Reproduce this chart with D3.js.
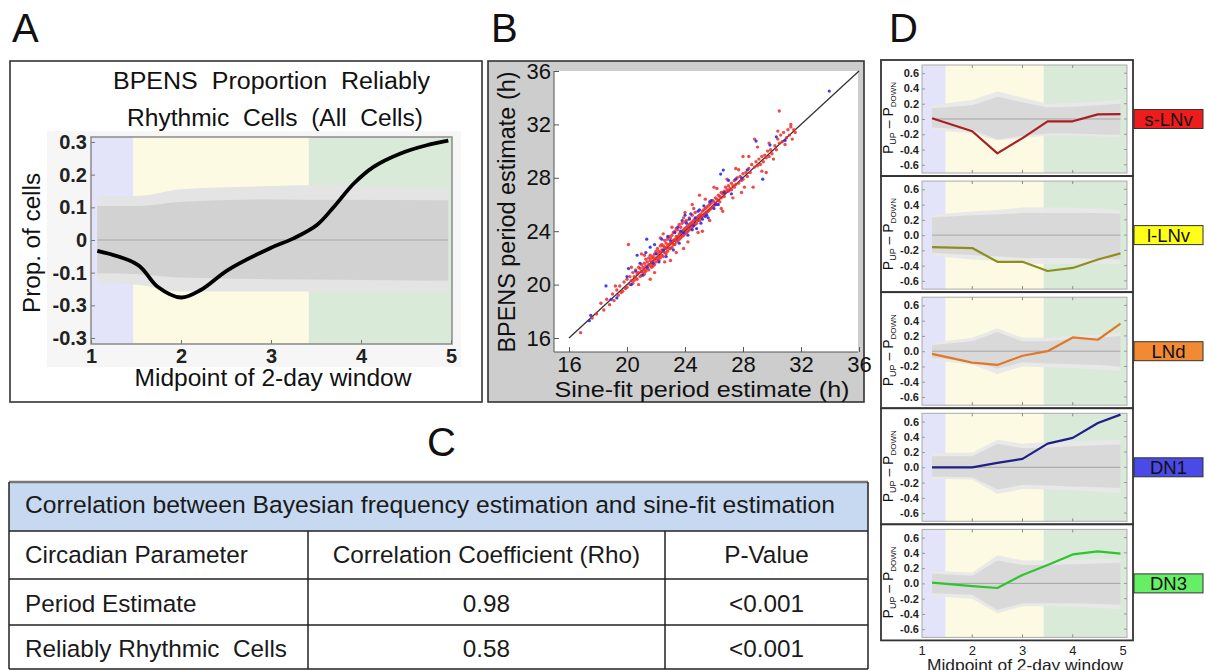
<!DOCTYPE html>
<html>
<head>
<meta charset="utf-8">
<script src="https://cdn.jsdelivr.net/npm/d3@7"></script>
<style>
  body { margin: 0; background: #fff; }
  svg { display: block; font-family: "Liberation Sans", Arial, Helvetica, sans-serif; }
  text.pre { white-space: pre; }
</style>
</head>
<body>
<svg id="fig" width="1206" height="670"></svg>
<script>
// ---------------- Panel A: proportion of reliably rhythmic cells ----------------
const windowMid   = [1.07, 1.52, 1.74, 2.00, 2.22, 2.52, 2.99, 3.25, 3.51, 3.70, 3.92, 4.14, 4.44, 4.73, 4.97];
const propCells   = [-0.033, -0.076, -0.143, -0.176, -0.153, -0.092, -0.025, 0.005, 0.046, 0.102, 0.173, 0.224, 0.265, 0.290, 0.304];
const nullX       = [1.07, 1.52, 2.00, 3.00, 3.70, 4.97];
const nullOuterHi = [0.135, 0.135, 0.155, 0.165, 0.168, 0.155];
const nullInnerHi = [0.104, 0.104, 0.117, 0.124, 0.123, 0.122];
const nullInnerLo = [-0.102, -0.105, -0.115, -0.120, -0.122, -0.125];
const nullOuterLo = [-0.132, -0.137, -0.158, -0.158, -0.158, -0.160];
const aYTicks      = [0.3, 0.2, 0.1, 0, -0.1, -0.2, -0.3];
const aYTickLabels = ["0.3", "0.2", "0.1", "0", "-0.1", "-0.3", "-0.3"];
const aXTicks      = [1, 2, 3, 4, 5];

// Phases of the recording (lavender / yellow / green backgrounds)
const phaseEdges  = [1, 1.47, 3.42, 5.1];
const phaseColors = ["#e3e3fa", "#fcfae2", "#d9ead9"];

// ---------------- Panel B: period estimates (sine-fit vs BPENS) ----------------
const periodRed = [[16.8,16.4],[17.6,17.5],[17.9,17.8],[18.2,18.6],[18.4,18.1],[18.6,18.9],[18.8,18.5],[19.0,19.3],[19.1,18.8],[19.2,19.9],[19.3,19.6],[19.4,19.2],[19.5,19.9],[19.6,19.4],[19.7,19.5],[19.8,20.2],[19.9,19.7],[20.0,20.4],[20.0,19.8],[20.1,23.0],[20.2,20.6],[20.2,20.0],[20.3,20.3],[20.3,21.3],[20.4,20.9],[20.4,20.1],[20.5,20.6],[20.5,20.3],[20.6,21.1],[20.6,20.5],[20.7,20.8],[20.7,20.4],[20.8,21.3],[20.8,20.9],[20.8,20.0],[20.9,20.6],[20.9,21.2],[21.0,21.0],[21.0,21.5],[21.0,20.7],[21.0,22.3],[21.1,21.3],[21.1,20.9],[21.2,21.6],[21.2,21.1],[21.2,20.8],[21.2,22.2],[21.3,21.4],[21.3,21.9],[21.3,21.0],[21.4,21.7],[21.4,21.2],[21.5,21.5],[21.5,22.0],[21.5,21.1],[21.6,21.8],[21.6,21.4],[21.6,22.2],[21.6,20.4],[21.7,21.6],[21.7,22.0],[21.7,21.3],[21.8,22.1],[21.8,21.7],[21.8,21.4],[21.9,22.3],[21.9,21.9],[21.9,21.5],[21.9,20.9],[22.0,22.0],[22.0,22.5],[22.0,21.7],[22.1,22.3],[22.1,21.9],[22.1,22.7],[22.2,22.1],[22.2,22.5],[22.2,21.8],[22.3,22.4],[22.3,22.9],[22.3,22.0],[22.3,23.5],[22.4,22.6],[22.4,22.2],[22.4,23.0],[22.5,22.5],[22.5,22.9],[22.5,22.1],[22.5,23.8],[22.6,22.8],[22.6,22.4],[22.6,23.3],[22.6,21.7],[22.7,22.7],[22.7,23.1],[22.7,22.3],[22.8,22.9],[22.8,23.4],[22.8,22.5],[22.9,23.0],[22.9,22.7],[22.9,23.6],[23.0,23.1],[23.0,23.5],[23.0,22.7],[23.0,21.8],[23.1,23.2],[23.1,22.8],[23.1,23.7],[23.1,24.3],[23.2,23.3],[23.2,23.0],[23.2,23.9],[23.3,23.4],[23.3,23.0],[23.3,24.0],[23.4,23.6],[23.4,23.2],[23.4,24.2],[23.4,22.4],[23.5,23.6],[23.5,23.3],[23.5,24.1],[23.6,23.8],[23.6,23.4],[23.6,24.5],[23.7,23.9],[23.7,23.5],[23.7,24.3],[23.8,24.0],[23.8,23.6],[23.8,24.6],[23.9,24.1],[23.9,23.7],[23.9,22.7],[23.9,25.0],[24.0,24.2],[24.0,24.7],[24.0,23.8],[24.0,25.4],[24.1,24.3],[24.1,23.9],[24.1,24.8],[24.2,24.4],[24.2,24.0],[24.2,23.2],[24.3,24.5],[24.3,24.1],[24.3,25.0],[24.4,24.6],[24.4,24.2],[24.5,24.7],[24.5,24.3],[24.5,25.2],[24.5,26.0],[24.6,24.8],[24.6,24.5],[24.6,25.7],[24.7,24.9],[24.7,24.5],[24.7,25.4],[24.8,25.0],[24.8,24.6],[24.9,25.1],[24.9,24.8],[24.9,23.9],[25.0,25.2],[25.0,24.8],[25.0,26.7],[25.1,25.3],[25.1,25.0],[25.2,25.5],[25.2,25.1],[25.2,24.0],[25.3,25.6],[25.3,25.2],[25.4,25.7],[25.4,25.3],[25.4,26.4],[25.5,25.8],[25.5,25.4],[25.6,25.9],[25.6,25.5],[25.7,26.0],[25.7,25.6],[25.7,24.8],[25.8,26.1],[25.8,25.7],[25.9,26.3],[25.9,25.8],[26.0,26.2],[26.0,25.9],[26.0,27.3],[26.1,26.5],[26.1,26.1],[26.2,26.4],[26.2,26.0],[26.2,27.2],[26.3,26.7],[26.3,26.3],[26.4,26.6],[26.4,26.2],[26.5,26.9],[26.5,26.5],[26.5,25.7],[26.6,26.8],[26.6,25.5],[26.7,27.0],[26.7,26.6],[26.8,27.3],[26.8,26.9],[26.9,27.1],[26.9,27.9],[27.0,27.4],[27.0,27.0],[27.1,27.2],[27.2,27.6],[27.2,27.1],[27.3,27.4],[27.3,26.5],[27.4,27.8],[27.4,27.3],[27.5,27.5],[27.5,28.7],[27.6,28.0],[27.7,27.6],[27.7,28.6],[27.8,28.1],[27.9,27.8],[27.9,26.9],[28.0,28.3],[28.0,27.9],[28.0,29.6],[28.1,27.3],[28.2,28.4],[28.3,28.1],[28.4,28.7],[28.4,29.6],[28.5,28.4],[28.6,29.0],[28.7,27.3],[28.8,30.9],[28.8,28.8],[28.9,29.2],[29.0,28.9],[29.0,30.3],[29.1,29.4],[29.2,29.0],[29.3,29.6],[29.3,28.5],[29.4,29.2],[29.5,29.7],[29.6,28.4],[29.6,29.5],[29.7,30.0],[29.8,29.6],[29.8,30.6],[29.9,30.1],[30.0,29.8],[30.1,29.4],[30.2,30.4],[30.3,30.1],[30.4,30.9],[30.4,31.5],[30.5,33.0],[30.5,30.6],[30.6,31.2],[30.7,30.7],[30.8,31.4],[30.9,30.5],[31.0,31.0],[31.1,31.6],[31.2,31.2],[31.3,31.8],[31.3,32.0],[31.4,30.9],[31.5,31.6],[31.6,31.4]];
const periodBlue = [[17.4,17.3],[17.5,17.7],[18.55,19.9],[18.9,18.9],[19.3,19.0],[20.0,20.6],[20.1,21.2],[20.3,20.0],[20.6,21.0],[20.7,22.2],[20.9,21.6],[21.1,20.7],[21.3,22.4],[21.36,23.4],[21.4,21.3],[21.6,22.8],[21.8,21.6],[21.9,23.0],[22.0,22.3],[22.2,21.7],[22.4,23.4],[22.5,22.6],[22.7,22.1],[22.8,23.6],[23.0,23.3],[23.2,22.6],[23.3,23.9],[23.5,24.3],[23.6,23.1],[23.7,24.0],[23.8,24.8],[23.9,23.9],[24.0,25.2],[24.1,24.6],[24.2,23.7],[24.3,24.9],[24.4,25.3],[24.5,24.1],[24.6,24.4],[24.7,25.0],[24.8,24.2],[24.9,25.5],[25.0,25.6],[25.1,24.6],[25.2,24.9],[25.3,25.9],[25.4,25.1],[25.5,25.2],[25.6,25.0],[25.7,26.2],[25.8,26.3],[26.0,25.7],[26.1,26.0],[26.3,26.0],[26.46,28.28],[26.64,28.58],[26.7,26.9],[27.0,27.8],[27.2,26.8],[27.5,27.9],[27.9,28.0],[28.3,28.6],[28.9,30.75],[29.36,27.9],[29.86,30.45],[30.3,31.07],[30.9,30.8],[33.95,34.5]];
const periodTicks = [16, 20, 24, 28, 32, 36];

// ---------------- Panel C: correlation table ----------------
const tableTitle   = "Correlation between Bayesian frequency estimation and sine-fit estimation";
const tableColumns = ["Circadian Parameter", "Correlation Coefficient (Rho)", "P-Value"];
const tableParams  = ["Period Estimate", "Reliably Rhythmic  Cells"];
const tableRho     = ["0.98", "0.58"];
const tablePValue  = ["<0.001", "<0.001"];

// ---------------- Panel D: P_UP - P_DOWN per neuron group ----------------
const groupX      = [1.2, 2.0, 2.5, 3.0, 3.5, 4.0, 4.5, 4.95];
const groupNames  = ["s-LNv", "l-LNv", "LNd", "DN1", "DN3"];
const groupFill   = ["#ee1c1c", "#ffff1a", "#f28a34", "#4a4ae6", "#66ee66"];
const groupLine   = ["#a81f1f", "#8e8e1e", "#e07828", "#1f1f88", "#2ec42e"];
const diffSLNv    = [0.01, -0.16, -0.45, -0.25, -0.03, -0.03, 0.06, 0.065];
const diffLLNv    = [-0.157, -0.17, -0.35, -0.35, -0.47, -0.43, -0.32, -0.24];
const diffLNd     = [-0.035, -0.15, -0.18, -0.06, 0.0, 0.18, 0.15, 0.36];
const diffDN1     = [0, 0, 0.057, 0.11, 0.31, 0.385, 0.58, 0.69];
const diffDN3     = [0.01, -0.035, -0.06, 0.11, 0.24, 0.38, 0.42, 0.39];
const outerHiD = [
  [0.18, 0.25, 0.36, 0.28, 0.20, 0.21, 0.23, 0.25],
  [0.27, 0.31, 0.33, 0.36, 0.36, 0.36, 0.35, 0.33],
  [0.11, 0.175, 0.30, 0.175, 0.175, 0.20, 0.22, 0.24],
  [0.19, 0.19, 0.36, 0.31, 0.33, 0.34, 0.35, 0.36],
  [0.17, 0.14, 0.37, 0.30, 0.30, 0.31, 0.32, 0.33]];
const innerHiD = [
  [0.14, 0.18, 0.29, 0.22, 0.15, 0.16, 0.18, 0.20],
  [0.23, 0.26, 0.27, 0.29, 0.29, 0.29, 0.29, 0.28],
  [0.08, 0.13, 0.25, 0.13, 0.13, 0.16, 0.18, 0.20],
  [0.145, 0.145, 0.31, 0.25, 0.26, 0.275, 0.29, 0.30],
  [0.13, 0.10, 0.30, 0.24, 0.24, 0.25, 0.26, 0.27]];
const innerLoD = [
  [-0.11, -0.14, -0.27, -0.22, -0.19, -0.19, -0.20, -0.21],
  [-0.23, -0.26, -0.28, -0.30, -0.30, -0.30, -0.31, -0.32],
  [-0.09, -0.13, -0.23, -0.145, -0.16, -0.17, -0.18, -0.20],
  [-0.12, -0.13, -0.29, -0.23, -0.24, -0.25, -0.26, -0.27],
  [-0.13, -0.15, -0.35, -0.26, -0.26, -0.26, -0.27, -0.28]];
const outerLoD = [
  [-0.14, -0.19, -0.28, -0.25, -0.22, -0.22, -0.23, -0.24],
  [-0.27, -0.32, -0.34, -0.37, -0.38, -0.38, -0.38, -0.38],
  [-0.12, -0.175, -0.30, -0.20, -0.21, -0.22, -0.24, -0.26],
  [-0.15, -0.16, -0.35, -0.285, -0.29, -0.30, -0.32, -0.34],
  [-0.165, -0.20, -0.39, -0.30, -0.30, -0.31, -0.32, -0.34]];
const dYTicks      = [0.6, 0.4, 0.2, 0, -0.2, -0.4, -0.6];
const dYTickLabels = ["0.6", "0.4", "0.2", "0.0", "-0.2", "-0.4", "-0.6"];
const dXTicks      = [1, 2, 3, 4, 5];

// ======================================================================
const svg = d3.select("#fig");
svg.append("rect").attr("width", 1206).attr("height", 670).attr("fill", "#fff");

function panelLetter(x, y, t) {
  svg.append("text").attr("x", x).attr("y", y).attr("font-size", 40).attr("fill", "#111").text(t);
}
panelLetter(12, 42, "A");
panelLetter(491, 42, "B");
panelLetter(427, 456, "C");
panelLetter(889, 42, "D");

// fitted text helper: scales glyphs to a given width, keeping repeated spaces
function fitText(g, x, y, size, width, str, anchor = "middle") {
  return g.append("text").attr("class", "pre").attr("x", x).attr("y", y).attr("text-anchor", anchor).attr("font-size", size)
    .attr("textLength", width).attr("lengthAdjust", "spacingAndGlyphs").attr("fill", "#111").text(str);
}

// ---------------- Panel A ----------------
(function () {
  const g = svg.append("g");
  g.append("rect").attr("x", 10).attr("y", 61).attr("width", 472).attr("height", 341)
    .attr("fill", "#fff").attr("stroke", "#333").attr("stroke-width", 1.6);
  g.append("rect").attr("x", 47).attr("y", 131).attr("width", 414).attr("height", 236).attr("fill", "#f6f6f6");

  const L = 91, R = 452, T = 137, B = 344;
  const x = d3.scaleLinear().domain([1, 5]).range([91, 451]);
  const y = d3.scaleLinear().domain([-0.3, 0.3]).range([338, 142]);

  // phase backgrounds
  phaseColors.forEach((c, i) => {
    const x0 = Math.max(L, x(phaseEdges[i])), x1 = Math.min(R, x(phaseEdges[i + 1]));
    g.append("rect").attr("x", x0).attr("y", T).attr("width", x1 - x0).attr("height", B - T).attr("fill", c);
  });

  // null distribution envelopes
  const pts = nullX.map((d, i) => ({ x: d, oh: nullOuterHi[i], ih: nullInnerHi[i], il: nullInnerLo[i], ol: nullOuterLo[i] }));
  const area = (hi, lo) => d3.area().x(d => x(d.x)).y0(d => y(d[lo])).y1(d => y(d[hi])).curve(d3.curveMonotoneX);
  g.append("path").datum(pts).attr("d", area("oh", "ol")).attr("fill", "#e4e4e4");
  g.append("path").datum(pts).attr("d", area("ih", "il")).attr("fill", "#d2d2d2");
  g.append("line").attr("x1", x(nullX[0])).attr("x2", x(nullX[nullX.length - 1]))
    .attr("y1", y(0)).attr("y2", y(0)).attr("stroke", "#a8a8a8").attr("stroke-width", 1);

  // frame
  g.append("rect").attr("x", L).attr("y", T).attr("width", R - L).attr("height", B - T)
    .attr("fill", "none").attr("stroke", "#8a8a8a").attr("stroke-width", 1.5);

  // observed curve
  const line = d3.line().x(d => x(d[0])).y(d => y(d[1])).curve(d3.curveCatmullRom.alpha(0.5));
  g.append("path").datum(windowMid.map((d, i) => [d, propCells[i]])).attr("d", line)
    .attr("fill", "none").attr("stroke", "#000").attr("stroke-width", 3.8).attr("stroke-linejoin", "round");

  // axes
  const ya = g.append("g").attr("transform", `translate(${L},0)`)
    .call(d3.axisLeft(y).tickValues(aYTicks).tickFormat((d, i) => aYTickLabels[i]).tickSize(-4).tickPadding(4));
  const xa = g.append("g").attr("transform", `translate(0,${B})`)
    .call(d3.axisBottom(x).tickValues(aXTicks).tickFormat(d3.format("d")).tickSize(-4).tickPadding(5));
  [ya, xa].forEach(a => {
    a.select(".domain").remove();
    a.selectAll("line").attr("stroke", "#777");
    a.selectAll("text").attr("font-size", 20).attr("font-weight", "bold").attr("fill", "#222")
      .attr("font-family", '"Liberation Sans", Arial, sans-serif');
  });

  // titles
  fitText(g, 271.5, 89, 23.5, 317, "BPENS  Proportion  Reliably");
  fitText(g, 275, 126, 23.5, 296, "Rhythmic  Cells  (All  Cells)");
  fitText(g, 0, 0, 23, 140, "Prop. of cells").attr("transform", "translate(40,243) rotate(-90)");
  fitText(g, 273, 386, 23, 277, "Midpoint of 2-day window");
})();

// ---------------- Panel B ----------------
(function () {
  const g = svg.append("g");
  g.append("rect").attr("x", 488).attr("y", 61).attr("width", 376).attr("height", 341)
    .attr("fill", "#cdcdcd").attr("stroke", "#333").attr("stroke-width", 1.6);
  const L = 554, R = 858, T = 71, B = 352;
  g.append("rect").attr("x", L).attr("y", T).attr("width", R - L).attr("height", B - T).attr("fill", "#fff");

  const x = d3.scaleLinear().domain([16, 36]).range([569, 859]);
  const y = d3.scaleLinear().domain([16, 36]).range([338, 71]);

  // identity line
  g.append("line").attr("x1", x(16)).attr("y1", y(16)).attr("x2", x(36)).attr("y2", y(36))
    .attr("stroke", "#333").attr("stroke-width", 1.3);

  g.append("g").selectAll("circle").data(periodRed).join("circle")
    .attr("cx", d => x(d[0])).attr("cy", d => y(d[1])).attr("r", 1.7).attr("fill", "#ee2a2a").attr("fill-opacity", 0.85);
  g.append("g").selectAll("circle").data(periodBlue).join("circle")
    .attr("cx", d => x(d[0])).attr("cy", d => y(d[1])).attr("r", 1.6).attr("fill", "#2a2aee").attr("fill-opacity", 0.9);

  const xa = g.append("g").attr("transform", `translate(0,${B})`)
    .call(d3.axisBottom(x).tickValues(periodTicks).tickSize(-5).tickPadding(5));
  const ya = g.append("g").attr("transform", `translate(${L},0)`)
    .call(d3.axisLeft(y).tickValues(periodTicks).tickSize(-5).tickPadding(3));
  [xa, ya].forEach(a => {
    a.select(".domain").attr("stroke", "#555").attr("stroke-width", 1);
    a.selectAll("line").attr("stroke", "#555");
    a.selectAll("text").attr("font-size", 22).attr("fill", "#111")
      .attr("font-family", '"Liberation Sans", Arial, sans-serif');
  });
  xa.selectAll("text").attr("dy", "0.66em");
  xa.select(".domain").attr("d", `M${L},0H${R}`);
  ya.select(".domain").attr("d", `M0,${T}V${B}`);

  fitText(g, 702, 397, 22, 295, "Sine-fit period estimate (h)");
  fitText(g, 0, 0, 23, 281, "BPENS period estimate (h)").attr("transform", "translate(515,212) rotate(-90)");
})();

// ---------------- Panel C ----------------
(function () {
  const g = svg.append("g");
  const L = 9, R = 868, colX = [9, 308, 665, 868];
  const rowY = [482, 531, 579, 625, 669];
  g.append("rect").attr("x", L).attr("y", rowY[0]).attr("width", R - L).attr("height", rowY[1] - rowY[0]).attr("fill", "#c6d9f1");
  // grid
  rowY.slice(1).forEach(yv => g.append("line").attr("x1", L).attr("x2", R).attr("y1", yv).attr("y2", yv)
    .attr("stroke", "#222").attr("stroke-width", 1.5));
  g.append("line").attr("x1", L).attr("x2", R).attr("y1", rowY[0]).attr("y2", rowY[0]).attr("stroke", "#777").attr("stroke-width", 2.5);
  [L, R].forEach(xv => g.append("line").attr("x1", xv).attr("x2", xv).attr("y1", rowY[0]).attr("y2", rowY[4])
    .attr("stroke", "#222").attr("stroke-width", 1.5));
  [colX[1], colX[2]].forEach(xv => g.append("line").attr("x1", xv).attr("x2", xv).attr("y1", rowY[1]).attr("y2", rowY[4])
    .attr("stroke", "#222").attr("stroke-width", 1.5));

  const fs = 24.3;
  g.append("text").attr("x", 25).attr("y", 513).attr("font-size", fs).attr("fill", "#1a1a1a")
    .attr("textLength", 810).attr("lengthAdjust", "spacingAndGlyphs").text(tableTitle);
  const base = [563, 612, 657];
  const cells = [tableColumns].concat(tableParams.map((p, i) => [p, tableRho[i], tablePValue[i]]));
  cells.forEach((row, r) => {
    g.append("text").attr("class", "pre").attr("x", 25).attr("y", base[r]).attr("font-size", fs).attr("fill", "#1a1a1a").text(row[0]);
    g.append("text").attr("x", (colX[1] + colX[2]) / 2).attr("y", base[r]).attr("text-anchor", "middle")
      .attr("font-size", fs).attr("fill", "#1a1a1a").text(row[1]);
    g.append("text").attr("x", (colX[2] + colX[3]) / 2).attr("y", base[r]).attr("text-anchor", "middle")
      .attr("font-size", fs).attr("fill", "#1a1a1a").text(row[2]);
  });
})();

// ---------------- Panel D ----------------
(function () {
  const series = [diffSLNv, diffLLNv, diffLNd, diffDN1, diffDN3];
  const L = 922, R = 1127;
  const x = d3.scaleLinear().domain([1, 5]).range([922, 1123]);
  const zeroY = [119, 235.1, 351.2, 467.3, 583.4];

  series.forEach((vals, k) => {
    const z = zeroY[k];
    const T = z - 54, B = z + 54;
    const y = d3.scaleLinear().domain([-0.6, 0.6]).range([z + 45.8, z - 45.8]);
    const g = svg.append("g");

    g.append("rect").attr("x", 881).attr("y", z - 59).attr("width", 252).attr("height", 116)
      .attr("fill", "#fff").attr("stroke", "#333").attr("stroke-width", 1.8);

    phaseColors.forEach((c, i) => {
      const x0 = Math.max(L, x(phaseEdges[i])), x1 = Math.min(R, x(phaseEdges[i + 1]));
      g.append("rect").attr("x", x0).attr("y", T).attr("width", x1 - x0).attr("height", B - T).attr("fill", c);
    });

    const pts = groupX.map((d, i) => ({ x: d, oh: outerHiD[k][i], ih: innerHiD[k][i], il: innerLoD[k][i], ol: outerLoD[k][i] }));
    const area = (hi, lo) => d3.area().x(d => x(d.x)).y0(d => y(d[lo])).y1(d => y(d[hi]));
    g.append("path").datum(pts).attr("d", area("oh", "ol")).attr("fill", "#e8e8e8").attr("fill-opacity", 0.95);
    g.append("path").datum(pts).attr("d", area("ih", "il")).attr("fill", "#d8d8d8").attr("fill-opacity", 0.95);
    g.append("line").attr("x1", x(groupX[0])).attr("x2", x(groupX[groupX.length - 1]))
      .attr("y1", y(0)).attr("y2", y(0)).attr("stroke", "#a5a5a5").attr("stroke-width", 1);

    g.append("rect").attr("x", L).attr("y", T).attr("width", R - L).attr("height", B - T)
      .attr("fill", "none").attr("stroke", "#aaa").attr("stroke-width", 1);

    // inner tick marks on all four sides
    dXTicks.slice(1, 4).forEach(t => {
      g.append("line").attr("x1", x(t)).attr("x2", x(t)).attr("y1", B).attr("y2", B - 3).attr("stroke", "#888");
      g.append("line").attr("x1", x(t)).attr("x2", x(t)).attr("y1", T).attr("y2", T + 3).attr("stroke", "#888");
    });
    dYTicks.forEach(t => {
      g.append("line").attr("x1", R).attr("x2", R - 3).attr("y1", y(t)).attr("y2", y(t)).attr("stroke", "#999");
    });

    const ya = g.append("g").attr("transform", `translate(${L},0)`)
      .call(d3.axisLeft(y).tickValues(dYTicks).tickFormat((d, i) => dYTickLabels[i]).tickSize(-3).tickPadding(3));
    ya.select(".domain").remove();
    ya.selectAll("line").attr("stroke", "#999");
    ya.selectAll("text").attr("font-size", 11).attr("font-weight", "bold").attr("fill", "#222")
      .attr("font-family", '"Liberation Sans", Arial, sans-serif');

    const line = d3.line().x((d, i) => x(groupX[i])).y(d => y(d));
    g.append("path").datum(vals).attr("d", line).attr("fill", "none")
      .attr("stroke", groupLine[k]).attr("stroke-width", 2.2).attr("stroke-linejoin", "round");

    // y label  P_UP - P_DOWN
    const yl = g.append("text").attr("transform", `translate(893,${z - 1}) rotate(-90)`).attr("text-anchor", "middle")
      .attr("font-size", 14).attr("fill", "#111");
    yl.append("tspan").text("P");
    yl.append("tspan").attr("font-size", 9).attr("dy", 3).text("UP");
    yl.append("tspan").attr("dy", -3).text(" \u2013 P");
    yl.append("tspan").attr("font-size", 8).attr("dy", 3).text("DOWN");

    // group tag
    g.append("rect").attr("x", 1134).attr("y", z - 9.5).attr("width", 69).attr("height", 19)
      .attr("fill", groupFill[k]).attr("stroke", "#333").attr("stroke-width", 1);
    g.append("text").attr("x", 1168.5).attr("y", z + 6.5).attr("text-anchor", "middle")
      .attr("font-size", 18.5).attr("fill", "#111").text(groupNames[k]);

    if (k === series.length - 1) {
      dXTicks.forEach(t => g.append("text").attr("x", x(t)).attr("y", 655).attr("text-anchor", "middle")
        .attr("font-size", 13).attr("fill", "#222").text(t));
      g.append("text").attr("x", 1025).attr("y", 671).attr("text-anchor", "middle").attr("font-size", 16.5)
        .attr("textLength", 196).attr("lengthAdjust", "spacingAndGlyphs").attr("fill", "#222").text("Midpoint of 2-day window");
    }
  });
})();
</script>
</body>
</html>
